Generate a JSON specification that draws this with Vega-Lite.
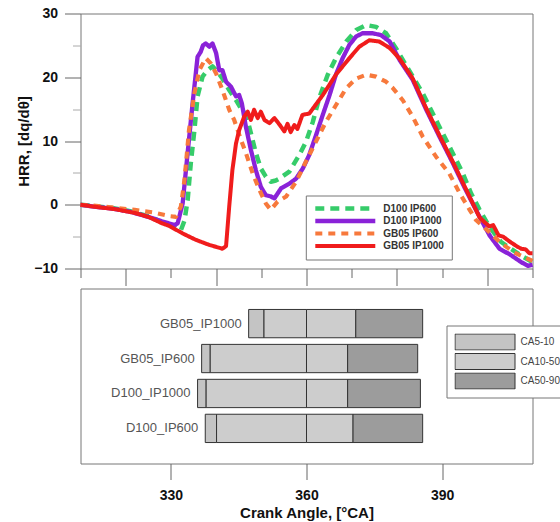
{
  "$schema": "https://vega.github.io/schema/vega-lite/v6.json",
  "padding": {"left": 15.5, "top": 5.5, "right": 0, "bottom": 0},
  "config": {"font": "Liberation Sans", "view": {"stroke": "#777", "strokeWidth": 1}, "concat": {"spacing": 1}},
  "resolve": {"legend": {"color": "independent", "strokeDash": "independent", "strokeWidth": "independent", "fill": "independent"}},
  "datasets": {
    "hrr": [
      {"series":"D100 IP600","ca":310,"hrr":0},{"series":"D100 IP600","ca":313,"hrr":-0.2},{"series":"D100 IP600","ca":317,"hrr":-0.5},{"series":"D100 IP600","ca":321,"hrr":-1.0},{"series":"D100 IP600","ca":325,"hrr":-1.8},{"series":"D100 IP600","ca":328,"hrr":-2.7},{"series":"D100 IP600","ca":330,"hrr":-3.3},{"series":"D100 IP600","ca":331.2,"hrr":-3.7},{"series":"D100 IP600","ca":332.2,"hrr":-4.0},{"series":"D100 IP600","ca":333,"hrr":-2.5},{"series":"D100 IP600","ca":333.7,"hrr":0.7},{"series":"D100 IP600","ca":334.4,"hrr":6.5},{"series":"D100 IP600","ca":335.2,"hrr":11.7},{"series":"D100 IP600","ca":335.9,"hrr":17.0},{"series":"D100 IP600","ca":337.0,"hrr":20.1},{"series":"D100 IP600","ca":338.1,"hrr":21.1},{"series":"D100 IP600","ca":339.2,"hrr":21.7},{"series":"D100 IP600","ca":340.3,"hrr":20.9},{"series":"D100 IP600","ca":341.4,"hrr":19.8},{"series":"D100 IP600","ca":342.9,"hrr":18.0},{"series":"D100 IP600","ca":344.4,"hrr":16.4},{"series":"D100 IP600","ca":345.5,"hrr":15.1},{"series":"D100 IP600","ca":346.6,"hrr":14.3},{"series":"D100 IP600","ca":347.7,"hrr":11.2},{"series":"D100 IP600","ca":348.8,"hrr":8.1},{"series":"D100 IP600","ca":349.9,"hrr":5.7},{"series":"D100 IP600","ca":351.0,"hrr":4.4},{"series":"D100 IP600","ca":352.1,"hrr":3.6},{"series":"D100 IP600","ca":353.2,"hrr":3.8},{"series":"D100 IP600","ca":354.0,"hrr":4.1},{"series":"D100 IP600","ca":356.2,"hrr":5.2},{"series":"D100 IP600","ca":358.4,"hrr":7.8},{"series":"D100 IP600","ca":359.9,"hrr":9.9},{"series":"D100 IP600","ca":361.4,"hrr":13.0},{"series":"D100 IP600","ca":362.8,"hrr":16.7},{"series":"D100 IP600","ca":364.7,"hrr":20.4},{"series":"D100 IP600","ca":366.5,"hrr":23.0},{"series":"D100 IP600","ca":368.8,"hrr":25.6},{"series":"D100 IP600","ca":371.0,"hrr":27.4},{"series":"D100 IP600","ca":373.2,"hrr":28.2},{"series":"D100 IP600","ca":375.4,"hrr":27.9},{"series":"D100 IP600","ca":377.6,"hrr":26.9},{"series":"D100 IP600","ca":380.0,"hrr":24.3},{"series":"D100 IP600","ca":382.0,"hrr":21.9},{"series":"D100 IP600","ca":385.7,"hrr":17.5},{"series":"D100 IP600","ca":389.0,"hrr":12.8},{"series":"D100 IP600","ca":392.0,"hrr":8.6},{"series":"D100 IP600","ca":394.6,"hrr":4.9},{"series":"D100 IP600","ca":396.4,"hrr":1.8},{"series":"D100 IP600","ca":398.3,"hrr":-0.8},{"series":"D100 IP600","ca":400.5,"hrr":-3.5},{"series":"D100 IP600","ca":403,"hrr":-5.8},{"series":"D100 IP600","ca":405,"hrr":-6.8},{"series":"D100 IP600","ca":407.5,"hrr":-8.0},{"series":"D100 IP600","ca":410,"hrr":-9.0},
      {"series":"D100 IP1000","ca":310,"hrr":0},{"series":"D100 IP1000","ca":313,"hrr":-0.3},{"series":"D100 IP1000","ca":317,"hrr":-0.6},{"series":"D100 IP1000","ca":321,"hrr":-1.1},{"series":"D100 IP1000","ca":325,"hrr":-1.9},{"series":"D100 IP1000","ca":328,"hrr":-2.6},{"series":"D100 IP1000","ca":329.5,"hrr":-2.9},{"series":"D100 IP1000","ca":330.8,"hrr":-3.2},{"series":"D100 IP1000","ca":331.5,"hrr":-2.9},{"series":"D100 IP1000","ca":332.6,"hrr":0.2},{"series":"D100 IP1000","ca":333.7,"hrr":8.1},{"series":"D100 IP1000","ca":334.8,"hrr":15.9},{"series":"D100 IP1000","ca":335.9,"hrr":23.2},{"series":"D100 IP1000","ca":336.6,"hrr":24.0},{"series":"D100 IP1000","ca":337.1,"hrr":25.0},{"series":"D100 IP1000","ca":337.7,"hrr":25.3},{"series":"D100 IP1000","ca":338.5,"hrr":24.8},{"series":"D100 IP1000","ca":339.2,"hrr":25.3},{"series":"D100 IP1000","ca":340.0,"hrr":23.8},{"series":"D100 IP1000","ca":340.7,"hrr":21.1},{"series":"D100 IP1000","ca":341.4,"hrr":21.1},{"series":"D100 IP1000","ca":342.2,"hrr":19.3},{"series":"D100 IP1000","ca":343.3,"hrr":18.5},{"series":"D100 IP1000","ca":344.4,"hrr":17.0},{"series":"D100 IP1000","ca":345.1,"hrr":17.2},{"series":"D100 IP1000","ca":345.7,"hrr":15.9},{"series":"D100 IP1000","ca":346.6,"hrr":12.2},{"series":"D100 IP1000","ca":347.7,"hrr":8.6},{"series":"D100 IP1000","ca":348.8,"hrr":5.4},{"series":"D100 IP1000","ca":349.9,"hrr":2.8},{"series":"D100 IP1000","ca":351.0,"hrr":1.5},{"series":"D100 IP1000","ca":352.1,"hrr":1.3},{"series":"D100 IP1000","ca":352.9,"hrr":1.0},{"series":"D100 IP1000","ca":354.4,"hrr":2.6},{"series":"D100 IP1000","ca":356.2,"hrr":3.3},{"series":"D100 IP1000","ca":357.7,"hrr":4.1},{"series":"D100 IP1000","ca":359.2,"hrr":5.7},{"series":"D100 IP1000","ca":360.6,"hrr":7.8},{"series":"D100 IP1000","ca":362.1,"hrr":10.9},{"series":"D100 IP1000","ca":363.6,"hrr":14.1},{"series":"D100 IP1000","ca":365.1,"hrr":17.2},{"series":"D100 IP1000","ca":366.5,"hrr":20.4},{"series":"D100 IP1000","ca":368.0,"hrr":23.0},{"series":"D100 IP1000","ca":369.5,"hrr":25.1},{"series":"D100 IP1000","ca":371.0,"hrr":26.4},{"series":"D100 IP1000","ca":372.4,"hrr":26.9},{"series":"D100 IP1000","ca":374.7,"hrr":26.9},{"series":"D100 IP1000","ca":376.5,"hrr":26.6},{"series":"D100 IP1000","ca":378.4,"hrr":25.6},{"series":"D100 IP1000","ca":380.6,"hrr":22.7},{"series":"D100 IP1000","ca":383.5,"hrr":19.6},{"series":"D100 IP1000","ca":386.5,"hrr":14.9},{"series":"D100 IP1000","ca":389.4,"hrr":10.7},{"series":"D100 IP1000","ca":392.4,"hrr":6.5},{"series":"D100 IP1000","ca":394.9,"hrr":2.8},{"series":"D100 IP1000","ca":396.4,"hrr":0.7},{"series":"D100 IP1000","ca":398.3,"hrr":-1.9},{"series":"D100 IP1000","ca":400.5,"hrr":-4.8},{"series":"D100 IP1000","ca":402.7,"hrr":-6.9},{"series":"D100 IP1000","ca":405,"hrr":-7.8},{"series":"D100 IP1000","ca":407.5,"hrr":-9.0},{"series":"D100 IP1000","ca":409,"hrr":-9.6},{"series":"D100 IP1000","ca":410,"hrr":-9.4},
      {"series":"GB05 IP600","ca":310,"hrr":0},{"series":"GB05 IP600","ca":314,"hrr":-0.2},{"series":"GB05 IP600","ca":318,"hrr":-0.5},{"series":"GB05 IP600","ca":322,"hrr":-0.8},{"series":"GB05 IP600","ca":326,"hrr":-1.2},{"series":"GB05 IP600","ca":329.8,"hrr":-1.8},{"series":"GB05 IP600","ca":331.1,"hrr":-1.9},{"series":"GB05 IP600","ca":332.2,"hrr":-0.3},{"series":"GB05 IP600","ca":333.0,"hrr":3.9},{"series":"GB05 IP600","ca":334.0,"hrr":11.7},{"series":"GB05 IP600","ca":335.2,"hrr":17.5},{"series":"GB05 IP600","ca":336.3,"hrr":21.1},{"series":"GB05 IP600","ca":337.7,"hrr":23.0},{"series":"GB05 IP600","ca":338.8,"hrr":22.2},{"series":"GB05 IP600","ca":340.0,"hrr":20.6},{"series":"GB05 IP600","ca":341.4,"hrr":18.0},{"series":"GB05 IP600","ca":342.9,"hrr":14.9},{"series":"GB05 IP600","ca":344.0,"hrr":13.3},{"series":"GB05 IP600","ca":345.5,"hrr":10.2},{"series":"GB05 IP600","ca":346.6,"hrr":8.1},{"series":"GB05 IP600","ca":348.1,"hrr":4.9},{"series":"GB05 IP600","ca":349.6,"hrr":2.3},{"series":"GB05 IP600","ca":351.0,"hrr":0.2},{"series":"GB05 IP600","ca":352.1,"hrr":-0.8},{"series":"GB05 IP600","ca":353.6,"hrr":0.5},{"series":"GB05 IP600","ca":355.5,"hrr":1.3},{"series":"GB05 IP600","ca":357.7,"hrr":3.6},{"series":"GB05 IP600","ca":359.9,"hrr":6.8},{"series":"GB05 IP600","ca":362.1,"hrr":9.9},{"series":"GB05 IP600","ca":364.3,"hrr":13.0},{"series":"GB05 IP600","ca":366.5,"hrr":15.6},{"series":"GB05 IP600","ca":368.8,"hrr":18.3},{"series":"GB05 IP600","ca":371.0,"hrr":19.8},{"series":"GB05 IP600","ca":373.2,"hrr":20.4},{"series":"GB05 IP600","ca":375.4,"hrr":20.1},{"series":"GB05 IP600","ca":377.6,"hrr":19.3},{"series":"GB05 IP600","ca":379.1,"hrr":18.3},{"series":"GB05 IP600","ca":381.3,"hrr":16.4},{"series":"GB05 IP600","ca":383.5,"hrr":13.8},{"series":"GB05 IP600","ca":385.7,"hrr":10.7},{"series":"GB05 IP600","ca":388.7,"hrr":7.5},{"series":"GB05 IP600","ca":391.6,"hrr":4.9},{"series":"GB05 IP600","ca":393.9,"hrr":1.8},{"series":"GB05 IP600","ca":396.1,"hrr":-0.8},{"series":"GB05 IP600","ca":397.5,"hrr":-2.4},{"series":"GB05 IP600","ca":400,"hrr":-4.0},{"series":"GB05 IP600","ca":403,"hrr":-6.0},{"series":"GB05 IP600","ca":406,"hrr":-7.5},{"series":"GB05 IP600","ca":410,"hrr":-8.8},
      {"series":"GB05 IP1000","ca":310,"hrr":0},{"series":"GB05 IP1000","ca":313,"hrr":-0.3},{"series":"GB05 IP1000","ca":317.7,"hrr":-0.7},{"series":"GB05 IP1000","ca":322.1,"hrr":-1.3},{"series":"GB05 IP1000","ca":325,"hrr":-1.9},{"series":"GB05 IP1000","ca":328,"hrr":-2.9},{"series":"GB05 IP1000","ca":329.6,"hrr":-3.3},{"series":"GB05 IP1000","ca":332.6,"hrr":-4.5},{"series":"GB05 IP1000","ca":335.5,"hrr":-5.5},{"series":"GB05 IP1000","ca":338.5,"hrr":-6.3},{"series":"GB05 IP1000","ca":341.4,"hrr":-6.9},{"series":"GB05 IP1000","ca":342.2,"hrr":-6.5},{"series":"GB05 IP1000","ca":342.9,"hrr":-0.3},{"series":"GB05 IP1000","ca":343.6,"hrr":5.4},{"series":"GB05 IP1000","ca":344.4,"hrr":9.6},{"series":"GB05 IP1000","ca":345.1,"hrr":11.7},{"series":"GB05 IP1000","ca":346.2,"hrr":13.8},{"series":"GB05 IP1000","ca":347.0,"hrr":14.6},{"series":"GB05 IP1000","ca":347.7,"hrr":13.3},{"series":"GB05 IP1000","ca":348.4,"hrr":14.9},{"series":"GB05 IP1000","ca":349.2,"hrr":13.6},{"series":"GB05 IP1000","ca":349.9,"hrr":14.6},{"series":"GB05 IP1000","ca":350.7,"hrr":13.3},{"series":"GB05 IP1000","ca":351.8,"hrr":12.8},{"series":"GB05 IP1000","ca":352.9,"hrr":13.6},{"series":"GB05 IP1000","ca":354.0,"hrr":12.6},{"series":"GB05 IP1000","ca":355.1,"hrr":11.5},{"series":"GB05 IP1000","ca":355.8,"hrr":12.7},{"series":"GB05 IP1000","ca":356.5,"hrr":11.4},{"series":"GB05 IP1000","ca":357.3,"hrr":12.5},{"series":"GB05 IP1000","ca":358.0,"hrr":11.9},{"series":"GB05 IP1000","ca":359.1,"hrr":14.1},{"series":"GB05 IP1000","ca":360.6,"hrr":14.3},{"series":"GB05 IP1000","ca":363.6,"hrr":17.2},{"series":"GB05 IP1000","ca":366.5,"hrr":20.4},{"series":"GB05 IP1000","ca":369.5,"hrr":23.0},{"series":"GB05 IP1000","ca":371.7,"hrr":24.8},{"series":"GB05 IP1000","ca":373.9,"hrr":25.8},{"series":"GB05 IP1000","ca":376.1,"hrr":25.6},{"series":"GB05 IP1000","ca":378.4,"hrr":24.6},{"series":"GB05 IP1000","ca":380.6,"hrr":22.9},{"series":"GB05 IP1000","ca":383.5,"hrr":19.8},{"series":"GB05 IP1000","ca":386.5,"hrr":15.1},{"series":"GB05 IP1000","ca":389.4,"hrr":10.9},{"series":"GB05 IP1000","ca":392.4,"hrr":6.7},{"series":"GB05 IP1000","ca":394.9,"hrr":3.0},{"series":"GB05 IP1000","ca":396.8,"hrr":0.2},{"series":"GB05 IP1000","ca":398.3,"hrr":-2.0},{"series":"GB05 IP1000","ca":399.5,"hrr":-2.8},{"series":"GB05 IP1000","ca":400.5,"hrr":-3.4},{"series":"GB05 IP1000","ca":401.3,"hrr":-3.2},{"series":"GB05 IP1000","ca":402.5,"hrr":-4.8},{"series":"GB05 IP1000","ca":403.5,"hrr":-5.0},{"series":"GB05 IP1000","ca":405,"hrr":-5.8},{"series":"GB05 IP1000","ca":406.5,"hrr":-6.5},{"series":"GB05 IP1000","ca":407.5,"hrr":-6.9},{"series":"GB05 IP1000","ca":408.5,"hrr":-7.0},{"series":"GB05 IP1000","ca":409.3,"hrr":-7.6},{"series":"GB05 IP1000","ca":410,"hrr":-7.6}
    ],
    "phases": [
      {"fuel":"GB05_IP1000","phase":"CA5-10","start":347.2,"end":350.6},
      {"fuel":"GB05_IP1000","phase":"CA10-50","start":350.6,"end":360},
      {"fuel":"GB05_IP1000","phase":"CA10-50","start":360,"end":370.9},
      {"fuel":"GB05_IP1000","phase":"CA50-90","start":370.9,"end":385.7},
      {"fuel":"GB05_IP600","phase":"CA5-10","start":336.8,"end":338.7},
      {"fuel":"GB05_IP600","phase":"CA10-50","start":338.7,"end":360},
      {"fuel":"GB05_IP600","phase":"CA10-50","start":360,"end":369.1},
      {"fuel":"GB05_IP600","phase":"CA50-90","start":369.1,"end":384.6},
      {"fuel":"D100_IP1000","phase":"CA5-10","start":335.9,"end":337.8},
      {"fuel":"D100_IP1000","phase":"CA10-50","start":337.8,"end":360},
      {"fuel":"D100_IP1000","phase":"CA10-50","start":360,"end":369.1},
      {"fuel":"D100_IP1000","phase":"CA50-90","start":369.1,"end":385.2},
      {"fuel":"D100_IP600","phase":"CA5-10","start":337.6,"end":340.1},
      {"fuel":"D100_IP600","phase":"CA10-50","start":340.1,"end":360},
      {"fuel":"D100_IP600","phase":"CA10-50","start":360,"end":370.3},
      {"fuel":"D100_IP600","phase":"CA50-90","start":370.3,"end":385.7}
    ]
  },
  "vconcat": [
    {
      "width": 452,
      "height": 255,
      "data": {"name": "hrr"},
      "layer": [
        {
          "mark": {"type": "line", "strokeJoin": "round"},
          "encoding": {
            "x": {"field": "ca", "type": "quantitative", "scale": {"domain": [310, 410], "nice": false, "zero": false},
              "axis": {"orient": "bottom", "values": [320, 340, 360, 380, 400], "tickSize": 17, "labels": false, "domain": false, "grid": false, "title": null, "tickColor": "#666"}},
            "y": {"field": "hrr", "type": "quantitative", "scale": {"domain": [-10, 30], "nice": false, "zero": false},
              "axis": {"orient": "left", "values": [-10, 0, 10, 20, 30], "tickSize": 16, "labelPadding": 7, "labelFontSize": 14, "labelFontWeight": "bold", "labelColor": "#111", "title": "HRR, [dq/dθ]", "titleFontSize": 15, "titleFontWeight": "bold", "titleColor": "#111", "titlePadding": 2.5, "domain": false, "grid": false, "tickColor": "#666"}},
            "color": {"field": "series", "type": "nominal",
              "scale": {"domain": ["D100 IP600", "D100 IP1000", "GB05 IP600", "GB05 IP1000"], "range": ["#36cc6a", "#8a22d8", "#f7793c", "#f01c1c"]},
              "legend": {"orient": "none", "legendX": 225.3, "legendY": 182, "title": null, "symbolType": "stroke", "symbolSize": 3600, "clipHeight": 12, "rowPadding": 0.5, "padding": 7, "labelOffset": 5.5, "labelFontSize": 10, "labelFontWeight": "bold", "labelColor": "#333", "strokeColor": "#777", "fillColor": "white"}},
            "strokeDash": {"field": "series", "type": "nominal",
              "scale": {"domain": ["D100 IP600", "D100 IP1000", "GB05 IP600", "GB05 IP1000"], "range": [[9, 6], [1, 0], [7, 6], [1, 0]]}},
            "strokeWidth": {"field": "series", "type": "nominal",
              "scale": {"domain": ["D100 IP600", "D100 IP1000", "GB05 IP600", "GB05 IP1000"], "range": [4.5, 4, 2, 2]}}
          }
        },
        {
          "mark": {"type": "point", "opacity": 0},
          "encoding": {
            "x": {"field": "ca", "type": "quantitative",
              "axis": {"orient": "bottom", "values": [310, 330, 350, 370, 390, 410], "tickSize": 9, "labels": false, "domain": false, "grid": false, "title": null, "tickColor": "#666"}},
            "y": {"field": "hrr", "type": "quantitative",
              "axis": {"orient": "left", "values": [-5, 5, 15, 25], "tickSize": 8, "labels": false, "domain": false, "grid": false, "title": null, "tickColor": "#aaa"}}
          }
        }
      ],
      "resolve": {"axis": {"x": "independent", "y": "independent"}}
    },
    {
      "width": 452,
      "height": 175,
      "data": {"name": "phases"},
      "layer": [
        {
          "mark": {"type": "bar", "stroke": "#333", "strokeWidth": 1},
          "encoding": {
            "x": {"field": "start", "type": "quantitative", "scale": {"domain": [310, 410], "nice": false, "zero": false},
              "axis": {"values": [330, 360, 390], "tickSize": 16, "labelFontSize": 14, "labelFontWeight": "bold", "labelColor": "#111", "labelPadding": 9, "title": "Crank Angle, [°CA]", "titleFontSize": 15, "titleFontWeight": "bold", "titleColor": "#111", "titlePadding": 3, "domain": false, "grid": false, "tickColor": "#666"}},
            "x2": {"field": "end"},
            "y": {"field": "fuel", "type": "nominal", "sort": ["GB05_IP1000", "GB05_IP600", "D100_IP1000", "D100_IP600"], "scale": {"paddingInner": 0.19, "paddingOuter": 0.6}, "axis": null},
            "fill": {"field": "phase", "type": "nominal",
              "scale": {"domain": ["CA5-10", "CA10-50", "CA50-90"], "range": ["#c4c4c4", "#cdcdcd", "#9c9c9c"]},
              "legend": {"orient": "none", "legendX": 366, "legendY": 37, "title": null, "symbolType": "M-1,-0.267H1V0.267H-1Z", "symbolSize": 3600, "symbolStrokeColor": "#333", "symbolStrokeWidth": 1, "clipHeight": 17, "rowPadding": 2.5, "padding": 8, "labelOffset": 5, "labelFontSize": 10, "labelColor": "#444", "strokeColor": "#777", "fillColor": "white"}}
          }
        },
        {
          "transform": [{"filter": "datum.phase == 'CA5-10'"}],
          "mark": {"type": "text", "align": "right", "baseline": "middle", "dx": -7, "fontSize": 13, "color": "#555"},
          "encoding": {
            "x": {"field": "start", "type": "quantitative"},
            "y": {"field": "fuel", "type": "nominal", "sort": ["GB05_IP1000", "GB05_IP600", "D100_IP1000", "D100_IP600"]},
            "text": {"field": "fuel"}
          }
        }
      ]
    }
  ]
}
